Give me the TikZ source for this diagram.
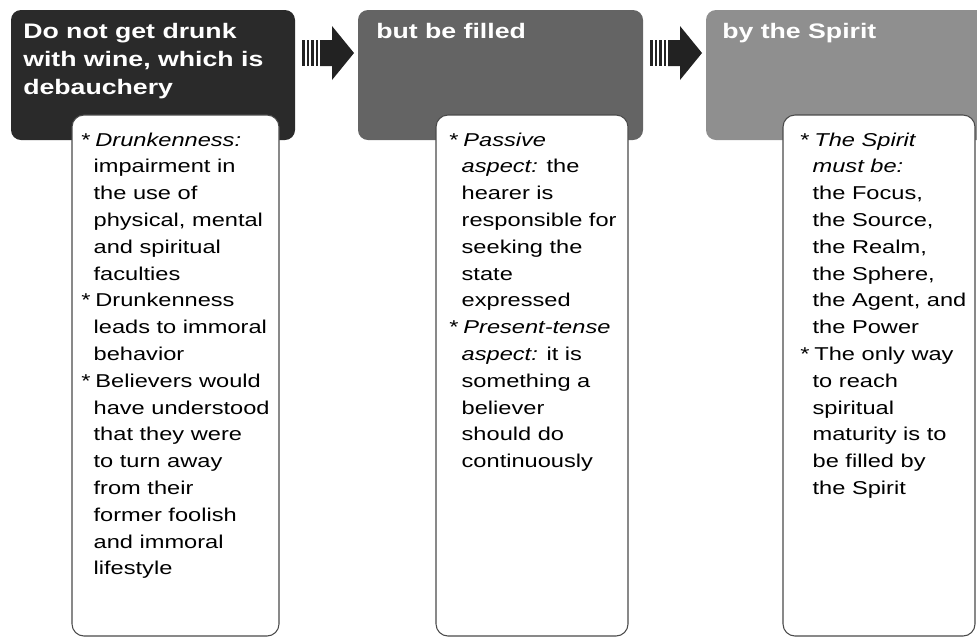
\documentclass[tikz,border=0pt]{standalone}
\usepackage{fontspec}
\setmainfont{Liberation Sans}[FakeStretch=1.27]
\newcommand\hangin{\hspace*{9.3pt}}
\newcommand\bul{\makebox[10.6pt][l]{*}}
\definecolor{hdrA}{HTML}{2A2A2A}
\definecolor{hdrB}{HTML}{646464}
\definecolor{hdrC}{HTML}{8F8F8F}
\definecolor{arrowc}{HTML}{222222}
\definecolor{cardline}{HTML}{4A4A4A}
\begin{document}
\begin{tikzpicture}[x=0.75pt,y=-0.75pt,
  hdr/.style={rectangle, rounded corners=7.5pt, inner sep=0pt, draw=none},
  card/.style={rectangle, rounded corners=9pt, fill=white, draw=cardline, line width=0.8pt, inner sep=0pt},
  htext/.style={anchor=base west, inner sep=0pt, text=white, font=\bfseries\fontsize{15.75pt}{21pt}\selectfont},
  btext/.style={anchor=base west, inner sep=0pt, font=\fontsize{13.95pt}{20.1pt}\selectfont},
  sarrow/.pic={
    \fill[arrowc] (0,-13) rectangle (2.5,13);
    \fill[arrowc] (4.5,-13) rectangle (7,13);
    \fill[arrowc] (9,-13) rectangle (11.5,13);
    \fill[arrowc] (13.5,-13) rectangle (16,13);
    \fill[arrowc] (18,-13) -- (30,-13) -- (30,-27) -- (52,0) -- (30,27) -- (30,13) -- (18,13) -- cycle;
  }]
\useasboundingbox (0,0) rectangle (977,637);
\clip (0,0) rectangle (977,637);

% header boxes
\node[hdr, fill=hdrA, minimum width={284*0.75pt}, minimum height={130*0.75pt}] (h1) at (153,75) {};
\node[hdr, fill=hdrB, minimum width={285*0.75pt}, minimum height={130*0.75pt}] (h2) at (500.5,75) {};
\node[hdr, fill=hdrC, minimum width={285*0.75pt}, minimum height={130*0.75pt}] (h3) at (848.5,75) {};

% arrows
\pic at (302,53) {sarrow};
\pic at (650,53) {sarrow};

% header texts
\node[htext] (ht1) at (23,38) {\parbox[t]{260pt}{\raggedright Do not get drunk\\ with wine, which is\\ debauchery}};
\node[htext] (ht2) at (376,38) {but be filled};
\node[htext] (ht3) at (722,38) {by the Spirit};

% cards
\node[card, minimum width={207*0.75pt}, minimum height={521*0.75pt}] (c1) at (175.5,375.5) {};
\node[card, minimum width={192*0.75pt}, minimum height={521*0.75pt}] (c2) at (532,375.5) {};
\node[card, minimum width={192*0.75pt}, minimum height={521*0.75pt}] (c3) at (879,375.5) {};

% card texts
\node[btext] (bt1) at (81,146) {\parbox[t]{200pt}{\raggedright
\bul\textit{Drunkenness:}\\
\hangin impairment in\\
\hangin the use of\\
\hangin physical, mental\\
\hangin and spiritual\\
\hangin faculties\\
\bul Drunkenness\\
\hangin leads to immoral\\
\hangin behavior\\
\bul Believers would\\
\hangin have understood\\
\hangin that they were\\
\hangin to turn away\\
\hangin from their\\
\hangin former foolish\\
\hangin and immoral\\
\hangin lifestyle}};

\node[btext] (bt2) at (449,146) {\parbox[t]{200pt}{\raggedright
\bul\textit{Passive}\\
\hangin \textit{aspect:} the\\
\hangin hearer is\\
\hangin responsible for\\
\hangin seeking the\\
\hangin state\\
\hangin expressed\\
\bul\textit{Present-tense}\\
\hangin \textit{aspect:} it is\\
\hangin something a\\
\hangin believer\\
\hangin should do\\
\hangin continuously}};

\node[btext] (bt3) at (800,146) {\parbox[t]{200pt}{\raggedright
\bul\textit{The Spirit}\\
\hangin \textit{must be:}\\
\hangin the Focus,\\
\hangin the Source,\\
\hangin the Realm,\\
\hangin the Sphere,\\
\hangin the Agent, and\\
\hangin the Power\\
\bul The only way\\
\hangin to reach\\
\hangin spiritual\\
\hangin maturity is to\\
\hangin be filled by\\
\hangin the Spirit}};
\end{tikzpicture}
\end{document}
